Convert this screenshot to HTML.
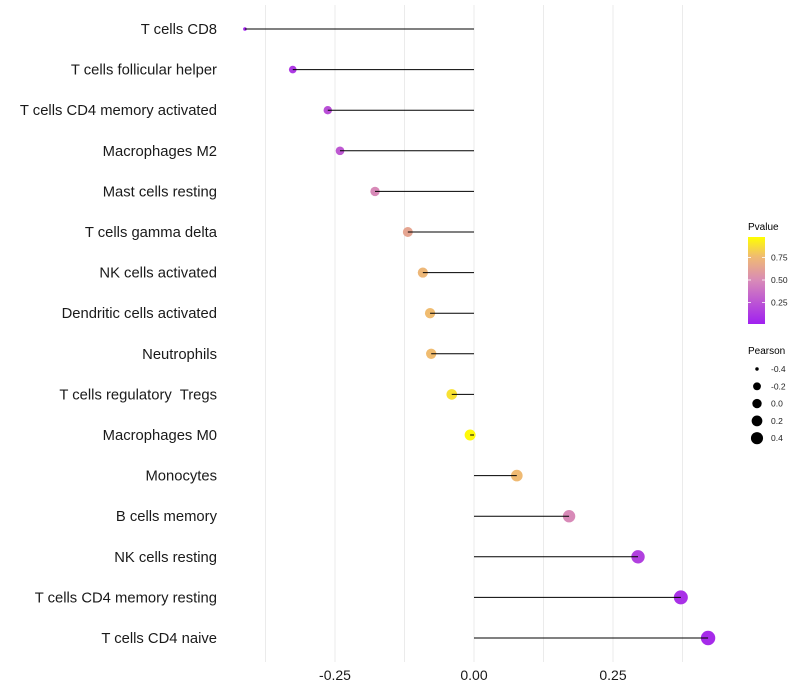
<!DOCTYPE html>
<html><head><meta charset="utf-8"><style>
body{margin:0;background:#fff;}
svg{display:block;font-family:"Liberation Sans",Arial,sans-serif;}
</style></head><body>
<svg id="chart" width="800" height="700">
<defs>
<linearGradient id="pgrad" x1="0" y1="1" x2="0" y2="0">
<stop offset="0" stop-color="#a020f0"/>
<stop offset="0.5" stop-color="#d88ab8"/>
<stop offset="0.78" stop-color="#f0bc70"/>
<stop offset="1" stop-color="#ffff00"/>
</linearGradient>
</defs>
<g id="grid"></g>
<g id="marks"></g>
<g id="ylabels"></g>
<g id="xlabels"></g>
<g>
<text x="748" y="230" font-size="10" fill="#000">Pvalue</text>
<rect x="748" y="237" width="17" height="87" fill="url(#pgrad)"/>
<g id="cticks"></g>
</g>
<g id="sizelegend">
<text x="748" y="354" font-size="10" fill="#000">Pearson</text>
</g>
</svg>
<script>
const categories=["T cells CD8","T cells follicular helper","T cells CD4 memory activated","Macrophages M2","Mast cells resting","T cells gamma delta","NK cells activated","Dendritic cells activated","Neutrophils","T cells regulatory  Tregs","Macrophages M0","Monocytes","B cells memory","NK cells resting","T cells CD4 memory resting","T cells CD4 naive"];
const pearson=[-0.412,-0.326,-0.263,-0.241,-0.178,-0.119,-0.092,-0.079,-0.077,-0.040,-0.007,0.077,0.171,0.295,0.372,0.421];
const pvalue=[0.02,0.12,0.22,0.27,0.50,0.65,0.75,0.78,0.78,0.90,0.98,0.77,0.50,0.15,0.08,0.05];
const xTicks=[-0.25,0,0.25];
const xTickLabels=["-0.25","0.00","0.25"];
const gridVals=[-0.375,-0.25,-0.125,0,0.125,0.25,0.375];
const colorTicks=[0.25,0.5,0.75];
const sizeBreaks=[-0.4,-0.2,0,0.2,0.4];
const NS="http://www.w3.org/2000/svg";
function x(v){return 474+v*556;}
function y(i){return 29+i*40.6;}
const rk=[[-0.41,1.8],[-0.33,3.8],[-0.2,4.6],[0,5.5],[0.42,7.2]];
function r(v){if(v<=rk[0][0])return rk[0][1];for(let k=1;k<rk.length;k++){if(v<=rk[k][0]){const a=rk[k-1],b=rk[k];return a[1]+(b[1]-a[1])*(v-a[0])/(b[0]-a[0]);}}return rk[rk.length-1][1];}
function cy(p){return 325-p*90;}
function hex(h){return [1,3,5].map(k=>parseInt(h.substr(k,2),16));}
const stops=[[0,"#a020f0"],[0.5,"#d88ab8"],[0.78,"#f0bc70"],[1,"#ffff00"]];
function col(p){for(let k=1;k<stops.length;k++){if(p<=stops[k][0]){const a=stops[k-1],b=stops[k];const t=(p-a[0])/(b[0]-a[0]);const A=hex(a[1]),B=hex(b[1]);return "rgb("+A.map((c,j)=>Math.round(c+(B[j]-c)*t)).join(",")+")";}}return "#ffff00";}
function mk(tag,attrs,parent){const e=document.createElementNS(NS,tag);for(const k in attrs)e.setAttribute(k,attrs[k]);parent.appendChild(e);return e;}
const grid=document.getElementById("grid"),marks=document.getElementById("marks"),yl=document.getElementById("ylabels"),xl=document.getElementById("xlabels");
gridVals.forEach(g=>{const l=mk("line",{x1:x(g),x2:x(g),y1:5,y2:662,stroke:"#ebebeb","stroke-width":1},grid);

});
categories.forEach((c,i)=>{
const t=mk("text",{x:217,y:y(i)+5,"text-anchor":"end","font-size":14.8,fill:"#1a1a1a"},yl);t.textContent=c;t.style.whiteSpace="pre";


const v=pearson[i];
const d=mk("circle",{cx:x(v),cy:y(i),r:r(v),fill:col(pvalue[i])},marks);


const s=mk("line",{x1:x(0),x2:x(v),y1:y(i),y2:y(i),stroke:"#000","stroke-width":1},marks);


});
xTicks.forEach((v,k)=>{const t=mk("text",{x:x(v),y:680,"text-anchor":"middle","font-size":14,fill:"#1a1a1a"},xl);t.textContent=xTickLabels[k];

});
const ct=document.getElementById("cticks");
colorTicks.forEach(p=>{
const l1=mk("line",{x1:748,x2:751,y1:cy(p),y2:cy(p),stroke:"#fff","stroke-width":0.8},ct);


const l2=mk("line",{x1:762,x2:765,y1:cy(p),y2:cy(p),stroke:"#fff","stroke-width":0.8},ct);


const t=mk("text",{x:771,y:cy(p)+3,"font-size":8.5,fill:"#222"},ct);t.textContent=p.toFixed(2);

});
const sl=document.getElementById("sizelegend");
sizeBreaks.forEach((v,k)=>{const yy=369+k*17.3;
const c=mk("circle",{cx:757,cy:yy,r:r(v)*0.85,fill:"#000"},sl);


const t=mk("text",{x:771,y:yy+3,"font-size":8.5,fill:"#222"},sl);t.textContent=v.toFixed(1);

});
</script>
</body></html>
